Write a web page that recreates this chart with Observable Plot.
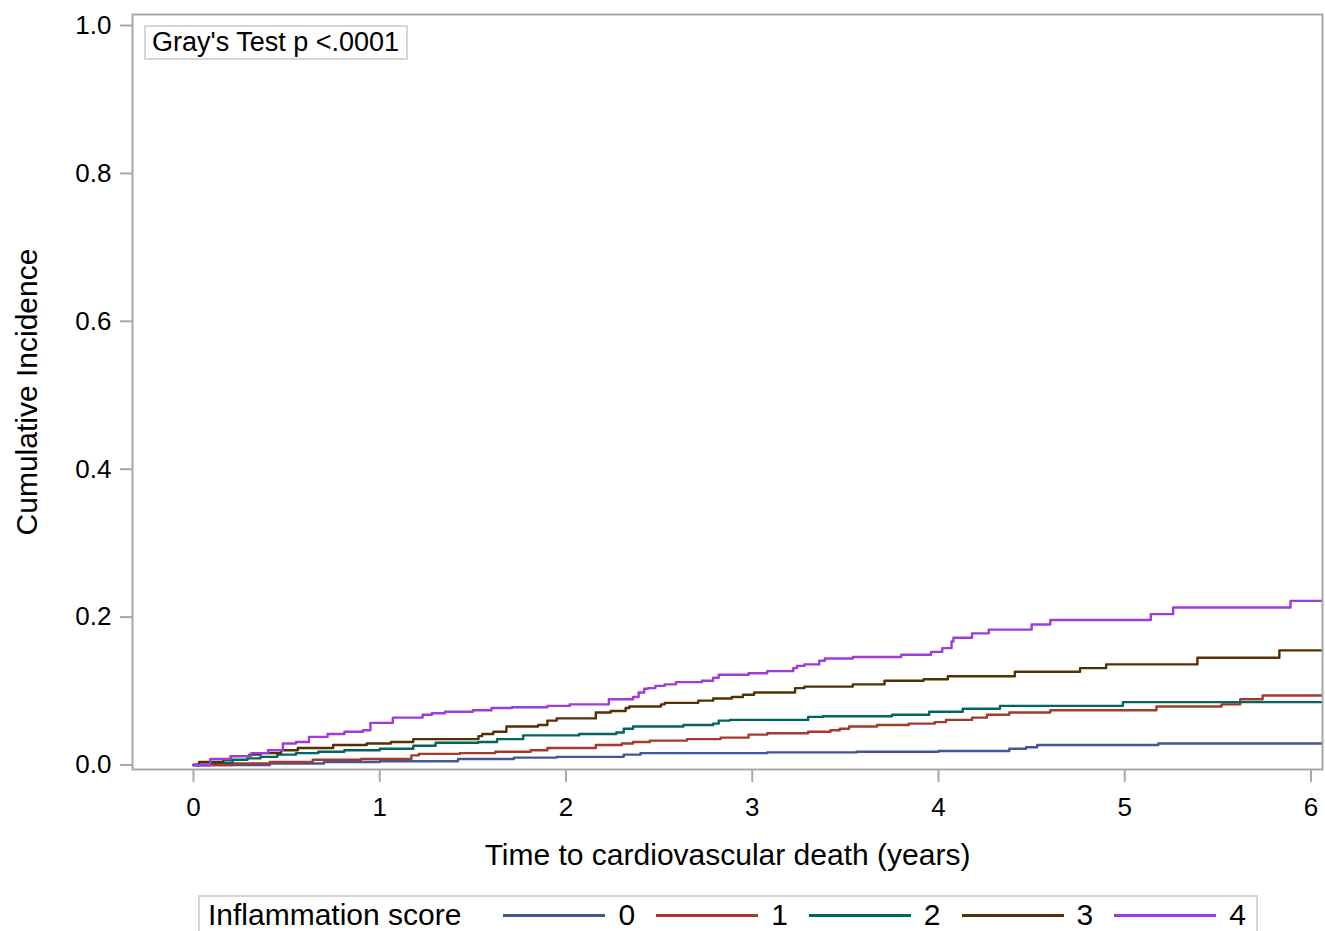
<!DOCTYPE html>
<html>
<head>
<meta charset="utf-8">
<script src="https://cdn.jsdelivr.net/npm/d3@7"></script>
<script src="https://cdn.jsdelivr.net/npm/@observablehq/plot@0.6"></script>
<style>
  html, body { margin: 0; padding: 0; background: #fff; }
  body { font-family: "Liberation Sans", Arial, sans-serif; }
  #wrap { position: relative; width: 1325px; height: 931px; overflow: hidden; }
  #note { position: absolute; left: 144px; top: 25px; width: 264px; height: 35px; box-sizing: border-box;
          border: 2px solid #d4d6d8; background: #fff; font-size: 27px; line-height: 31px; padding-left: 6px; color: #000; white-space: nowrap; }
  #legend { position: absolute; left: 198px; top: 895px; width: 1060px; height: 60px; box-sizing: border-box;
            border: 2px solid #d4d6d8; display: flex; align-items: flex-start; font-size: 30px; color: #000; padding-left: 8px; white-space: nowrap; }
  #legend .title { line-height: 36px; margin-right: 42px; flex: 0 0 auto; }
  #legend .item { display: flex; align-items: center; height: 36px; margin-right: 21px; flex: 0 0 auto; }
  #legend .sw { display: inline-block; width: 102px; height: 3px; margin-right: 13px; flex: 0 0 auto; }
</style>
</head>
<body>
<div id="wrap"></div>
<script>
// ---- data ----
const groups = ["0", "1", "2", "3", "4"];
const colors = ["#445694", "#A23A2E", "#01665E", "#543005", "#9D3CDB"];
const xTicks = [0, 1, 2, 3, 4, 5, 6];
const yTicks = [0, 0.2, 0.4, 0.6, 0.8, 1.0];

const time0 = [0, 0.41, 0.70, 1.00, 1.42, 1.72, 1.95, 2.31, 2.40, 3.08, 3.56, 4.00, 4.38, 4.47, 4.53, 5.18, 6.06];
const cif0  = [0, 0.002, 0.004, 0.005, 0.008, 0.010, 0.011, 0.014, 0.016, 0.017, 0.018, 0.019, 0.022, 0.024, 0.027, 0.029, 0.029];

const time1 = [0, 0.21, 0.41, 0.64, 0.90, 1.17, 1.21, 1.43, 1.62, 1.81, 1.90, 2.16, 2.30, 2.36, 2.45, 2.65, 2.83, 2.98, 3.08, 3.30, 3.42, 3.47, 3.52, 3.67, 3.84, 3.98, 4.04, 4.18, 4.26, 4.38, 4.60, 5.17, 5.52, 5.62, 5.74, 6.06];
const cif1  = [0, 0.002, 0.004, 0.007, 0.008, 0.013, 0.015, 0.016, 0.018, 0.020, 0.023, 0.027, 0.029, 0.031, 0.033, 0.035, 0.037, 0.041, 0.043, 0.045, 0.047, 0.049, 0.052, 0.054, 0.056, 0.058, 0.061, 0.064, 0.068, 0.071, 0.074, 0.079, 0.082, 0.089, 0.094, 0.094];

const time2 = [0, 0.09, 0.21, 0.29, 0.36, 0.45, 0.55, 0.67, 0.81, 1.00, 1.18, 1.30, 1.53, 1.63, 1.77, 2.07, 2.27, 2.31, 2.36, 2.63, 2.79, 2.82, 2.88, 3.30, 3.38, 3.75, 3.95, 4.13, 4.33, 4.99, 6.06];
const cif2  = [0, 0.003, 0.007, 0.009, 0.011, 0.014, 0.016, 0.018, 0.020, 0.022, 0.026, 0.030, 0.031, 0.035, 0.040, 0.042, 0.044, 0.049, 0.052, 0.054, 0.056, 0.060, 0.061, 0.065, 0.066, 0.068, 0.072, 0.076, 0.080, 0.085, 0.085];

const time3 = [0, 0.03, 0.16, 0.20, 0.30, 0.36, 0.47, 0.56, 0.75, 0.93, 1.06, 1.18, 1.53, 1.55, 1.61, 1.68, 1.85, 1.90, 1.95, 2.16, 2.24, 2.32, 2.34, 2.51, 2.53, 2.71, 2.79, 2.89, 2.95, 3.01, 3.23, 3.28, 3.54, 3.71, 3.92, 4.05, 4.41, 4.76, 4.90, 5.39, 5.83, 6.06];
const cif3  = [0, 0.004, 0.007, 0.012, 0.014, 0.016, 0.020, 0.023, 0.027, 0.029, 0.031, 0.035, 0.039, 0.042, 0.045, 0.052, 0.054, 0.060, 0.063, 0.071, 0.073, 0.077, 0.079, 0.082, 0.084, 0.087, 0.090, 0.092, 0.095, 0.098, 0.104, 0.106, 0.109, 0.114, 0.116, 0.120, 0.126, 0.131, 0.136, 0.145, 0.155, 0.155];

const time4 = [0, 0.09, 0.20, 0.31, 0.40, 0.48, 0.55, 0.62, 0.72, 0.81, 0.91, 0.95, 1.07, 1.23, 1.28, 1.35, 1.50, 1.60, 1.71, 1.90, 2.02, 2.23, 2.36, 2.39, 2.42, 2.44, 2.48, 2.53, 2.59, 2.73, 2.79, 2.82, 2.98, 3.08, 3.22, 3.24, 3.28, 3.36, 3.39, 3.54, 3.80, 3.96, 4.02, 4.07, 4.08, 4.18, 4.27, 4.50, 4.60, 5.14, 5.26, 5.89, 6.06];
const cif4  = [0, 0.008, 0.012, 0.016, 0.020, 0.029, 0.031, 0.038, 0.042, 0.045, 0.047, 0.057, 0.064, 0.068, 0.070, 0.072, 0.074, 0.077, 0.078, 0.080, 0.082, 0.089, 0.092, 0.098, 0.103, 0.104, 0.107, 0.109, 0.112, 0.114, 0.118, 0.122, 0.124, 0.127, 0.131, 0.134, 0.136, 0.141, 0.144, 0.146, 0.149, 0.153, 0.158, 0.167, 0.172, 0.178, 0.183, 0.190, 0.196, 0.204, 0.213, 0.222, 0.222];

const pText = "Gray's Test p <.0001";
const xLabel = "Time to cardiovascular death (years)";
const yLabel = "Cumulative Incidence";
const legendTitle = "Inflammation score";

// ---- build table ----
const times = [time0, time1, time2, time3, time4];
const cifs = [cif0, cif1, cif2, cif3, cif4];
const rows = [];
groups.forEach((g, i) => times[i].forEach((t, j) => rows.push({group: g, time: t, cif: cifs[i][j]})));

const gray = "#a6a9ac";
const chart = Plot.plot({
  width: 1325,
  height: 880,
  marginLeft: 132,
  marginRight: 3,
  marginTop: 14,
  marginBottom: 111,
  style: {fontFamily: "'Liberation Sans', Arial, sans-serif", background: "transparent", color: "#000"},
  x: {domain: [-0.3275, 6.0617]},
  y: {domain: [-0.0061, 1.0149]},
  color: {domain: groups, range: colors},
  marks: [
    Plot.line(rows, {x: "time", y: "cif", z: "group", stroke: "group", curve: "step-after", strokeWidth: 2.4}),
    Plot.frame({stroke: gray, strokeWidth: 2}),
    Plot.axisX({ticks: xTicks, tickFormat: d3.format("d"), tickSize: 13, tickPadding: 15, fontSize: 26, stroke: gray, strokeWidth: 2, fill: "#000", label: null}),
    Plot.axisY({ticks: yTicks, tickFormat: d3.format(".1f"), tickSize: 12, tickPadding: 9, fontSize: 26, stroke: gray, strokeWidth: 2, fill: "#000", label: null}),
    Plot.text([xLabel], {text: d => d, frameAnchor: "bottom", dy: 86, fontSize: 30, fill: "#000", lineAnchor: "middle"}),
    Plot.text([yLabel], {text: d => d, frameAnchor: "left", dx: -105, rotate: -90, fontSize: 30, fill: "#000", textAnchor: "middle", lineAnchor: "middle"})
  ]
});

const wrap = document.getElementById("wrap");
chart.style.position = "absolute";
chart.style.left = "0px";
chart.style.top = "0px";
wrap.appendChild(chart);

const note = document.createElement("div");
note.id = "note";
note.textContent = pText;
wrap.appendChild(note);

const legend = document.createElement("div");
legend.id = "legend";
const title = document.createElement("span");
title.className = "title";
title.textContent = legendTitle;
legend.appendChild(title);
groups.forEach((g, i) => {
  const item = document.createElement("span");
  item.className = "item";
  const sw = document.createElement("span");
  sw.className = "sw";
  sw.style.background = colors[i];
  const lab = document.createElement("span");
  lab.textContent = g;
  item.appendChild(sw);
  item.appendChild(lab);
  legend.appendChild(item);
});
wrap.appendChild(legend);
</script>
</body>
</html>
